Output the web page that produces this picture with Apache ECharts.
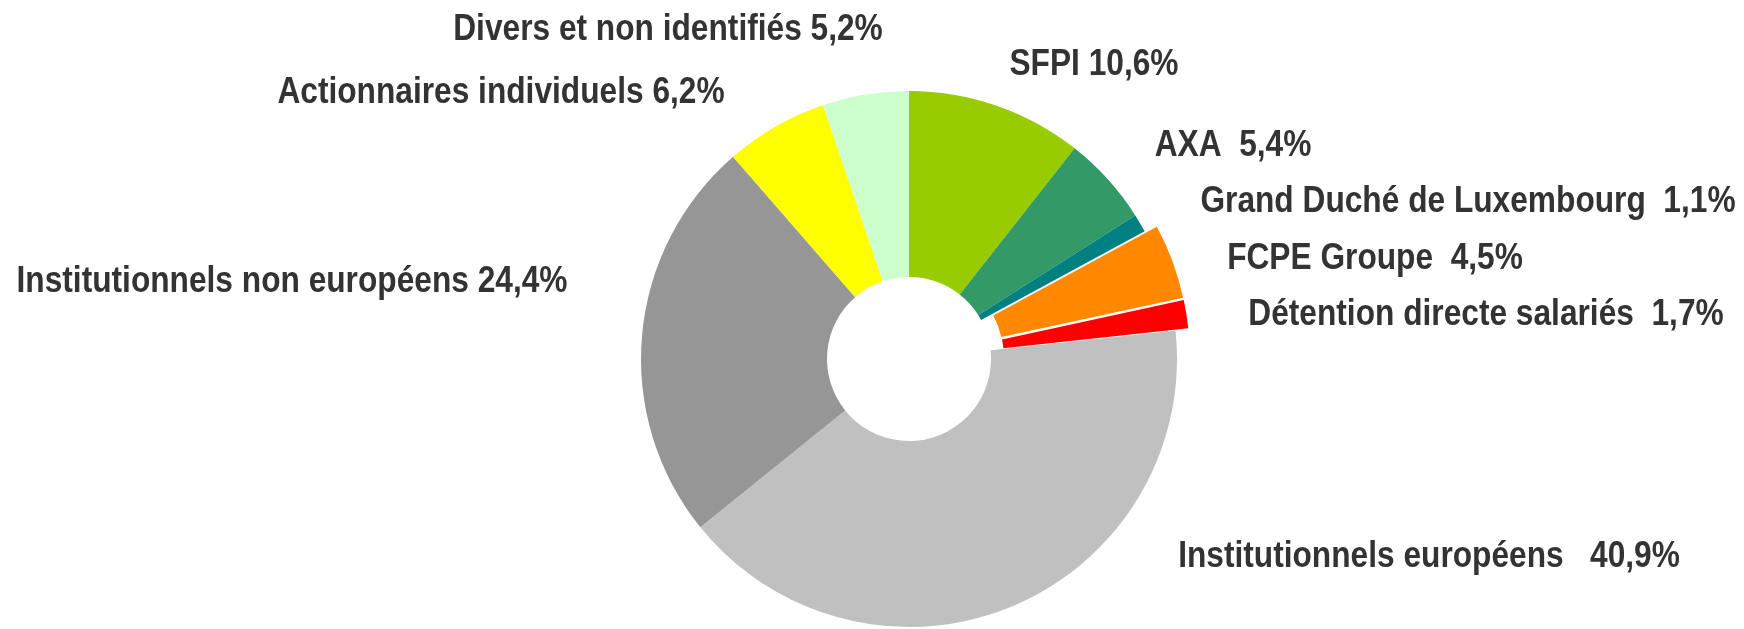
<!DOCTYPE html>
<html>
<head>
<meta charset="utf-8">
<script src="https://cdn.jsdelivr.net/npm/echarts@6/dist/echarts.min.js"></script>
<style>
  html, body { margin: 0; padding: 0; background: #fff; }
  #main { width: 1744px; height: 629px; }
</style>
</head>
<body>
<div id="main"></div>
<script>
// actionnariat, dans l'ordre horaire depuis midi
const names = ['SFPI', 'AXA', 'Grand Duché de Luxembourg', 'FCPE Groupe', 'Détention directe salariés',
  'Institutionnels européens', 'Institutionnels non européens', 'Actionnaires individuels', 'Divers et non identifiés'];
const values = [10.6, 5.4, 1.1, 4.5, 1.7, 40.9, 24.4, 6.2, 5.2];
const gaps = [1, 2, 2, 2, 2, 3, 1, 1, 1];           // espaces entre nom et valeur
const exploded = ['FCPE Groupe', 'Détention directe salariés'];

const colors = ['#99cc00', '#339966', '#008080', '#ff8800', '#ff0000', '#c0c0c0', '#969696', '#ffff00', '#ccffcc'];

// centre des étiquettes (px)
const labelPos = {
  'SFPI': [1094, 65],
  'AXA': [1233, 146],
  'Grand Duché de Luxembourg': [1468, 202],
  'FCPE Groupe': [1375, 259],
  'Détention directe salariés': [1486, 315],
  'Institutionnels européens': [1429, 557],
  'Institutionnels non européens': [292, 282],
  'Actionnaires individuels': [501, 93],
  'Divers et non identifiés': [668, 30]
};

const fmt = v => v.toFixed(1).replace('.', ',') + '%';

const chart = echarts.init(document.getElementById('main'), null, { renderer: 'canvas' });

// police étroite non dispo -> on compresse horizontalement
const labels = names.map((n, i) => ({
  type: 'text',
  x: labelPos[n][0],
  y: labelPos[n][1],
  scaleX: 0.88,
  silent: true,
  style: {
    text: n + ' '.repeat(gaps[i]) + fmt(values[i]),
    fontFamily: '"Liberation Sans", Arial, sans-serif',
    fontWeight: 'bold',
    fontSize: 36,
    fill: '#333333',
    align: 'center',
    verticalAlign: 'middle'
  }
}));

chart.setOption({
  animation: false,
  color: colors,
  graphic: labels,
  series: [{
    type: 'pie',
    center: [909, 359],
    radius: [82, 268],
    startAngle: 90,
    clockwise: true,
    selectedMode: 'multiple',
    selectedOffset: 13,
    emphasis: { disabled: true },
    label: { show: false },
    labelLine: { show: false },
    data: names.map((n, i) => ({
      name: n,
      value: values[i],
      selected: exploded.includes(n)
    }))
  }]
});
</script>
</body>
</html>
